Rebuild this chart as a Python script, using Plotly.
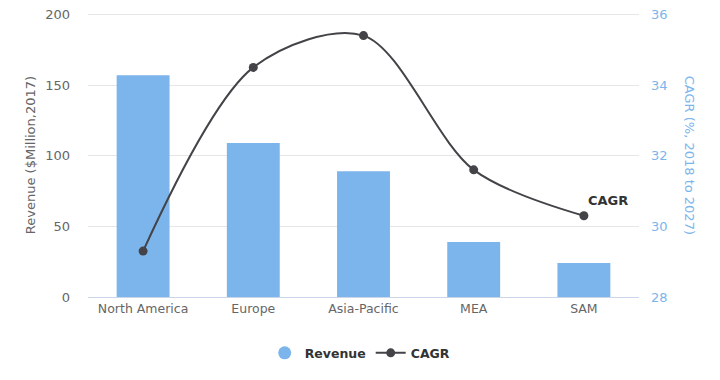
import plotly.graph_objects as go

regions = ["North America", "Europe", "Asia-Pacific", "MEA", "SAM"]
revenue = [157, 109, 89, 39, 24]
cagr = [29.3, 34.5, 35.4, 31.6, 30.3]

FONT = "DejaVu Sans"
BAR = "#7cb5ec"
LINE = "#434348"

fig = go.Figure()
fig.add_trace(go.Bar(x=regions, y=revenue, name="Revenue", marker_color=BAR,
                     marker_line_width=0, showlegend=False, yaxis="y"))
fig.add_trace(go.Scatter(x=[None], y=[None], mode="markers", name="Revenue",
                         marker=dict(symbol="circle", size=13, color=BAR)))
fig.add_trace(go.Scatter(x=regions, y=cagr, name="CAGR", yaxis="y2",
                         mode="lines+markers",
                         line=dict(color=LINE, width=2, shape="spline", smoothing=0.9),
                         marker=dict(size=9, color=LINE)))

fig.add_annotation(x=regions[-1], y=cagr[-1], xref="x", yref="y2", text="<b>CAGR</b>",
                   showarrow=False, xshift=24, yshift=15,
                   font=dict(family=FONT, size=13, color="#333333"))

# axis titles
fig.add_annotation(x=-0.105, y=0.5, xref="paper", yref="paper", text="Revenue ($Million,2017)",
                   textangle=-90, showarrow=False, xanchor="center", yanchor="middle",
                   font=dict(family=FONT, size=13, color="#666666"))
fig.add_annotation(x=1.093, y=0.5, xref="paper", yref="paper", text="CAGR (%, 2018 to 2027)",
                   textangle=90, showarrow=False, xanchor="center", yanchor="middle",
                   font=dict(family=FONT, size=13, color=BAR))

YMAX = 201
# the page body adds an 8px offset, so margins are compensated
fig.update_layout(
    width=720, height=380,
    margin=dict(l=80, r=89, t=5, b=91, autoexpand=False),
    paper_bgcolor="white", plot_bgcolor="white",
    font=dict(family=FONT, size=13, color="#666666"),
    bargap=0.52,
    xaxis=dict(range=[-0.5, 4.5], showgrid=False, showline=True, linecolor="#ccd6eb",
               linewidth=1, ticks="", automargin=False,
               tickfont=dict(size=12.5, color="#666666"), fixedrange=True),
    yaxis=dict(range=[0, YMAX], tickvals=[0, 50, 100, 150, 200], showgrid=True,
               gridcolor="#e6e6e6", zeroline=False,
               automargin=False, ticklabelstandoff=17, ticklabeloverflow="allow",
               tickfont=dict(size=13, color="#666666")),
    yaxis2=dict(range=[28, 28 + 8 * YMAX / 200], tickvals=[28, 30, 32, 34, 36],
                overlaying="y", side="right", showgrid=False,
                zeroline=False, automargin=False, ticklabelstandoff=11,
                ticklabeloverflow="allow",
                tickfont=dict(size=13, color=BAR)),
    legend=dict(orientation="h", x=0.494, xanchor="center", y=-0.198, yanchor="middle",
                font=dict(family=FONT, size=12.5, color="#333333", weight="bold"),
                itemwidth=30, traceorder="normal"),
)

fig.write_html("out.html")
